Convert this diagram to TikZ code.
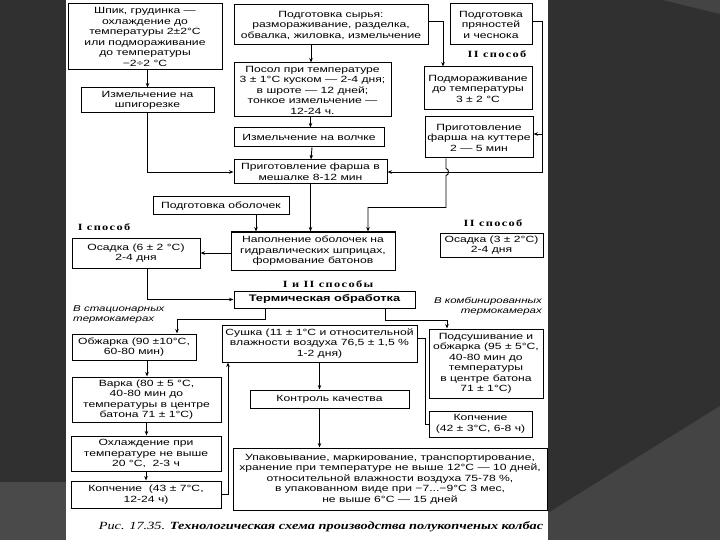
\documentclass[tikz,border=0pt]{standalone}
\usepackage{fontspec}
\setmainfont{Liberation Sans}[FakeStretch=1.35]
\newfontfamily\labfont{Liberation Serif}[FakeStretch=1.3]
\usetikzlibrary{arrows.meta}
\definecolor{bgdark}{RGB}{48,48,48}
\definecolor{bglight}{RGB}{68,68,68}
\definecolor{bgleft}{RGB}{74,74,74}
\tikzset{
  box/.style={draw=black, line width=1pt, fill=white, inner sep=0pt, align=center,
    font=\fontsize{9}{10.5}\selectfont},
  arr/.style={line width=0.9pt, -{Stealth[length=4.5pt,width=3.5pt]}},
  ln/.style={line width=0.9pt},
  lab/.style={inner sep=0pt, font=\labfont\bfseries\fontsize{9.5}{11}\selectfont\addfontfeature{LetterSpace=14}},
  itl/.style={inner sep=0pt, font=\itshape\fontsize{8.5}{10}\selectfont},
}
\begin{document}
\begin{tikzpicture}[x=1pt,y=-1pt]
\useasboundingbox (0,0) rectangle (720,540);
\fill[bgdark] (0,0) rectangle (720,540);
\fill[bglight] (548,513) -- (720,406) -- (720,540) -- (548,540) -- cycle;
\fill[bglight] (663,0) -- (720,0) -- (720,14) -- cycle;
\fill[bgleft] (0,482) rectangle (66,540);
\fill[white] (66,0) rectangle (548,540);

% left column
\node[box, minimum width=154pt, minimum height=66pt] (shpik) at (145,37)
  {Шпик, грудинка —\\охлаждение до\\температуры 2±2°C\\или подмораживание\\до температуры\\−2÷2 °C};
\node[box, minimum width=133pt, minimum height=25pt] (shpig) at (147.5,100.5)
  {Измельчение на\\шпигорезке};

% middle column
\node[box, minimum width=194pt, minimum height=40pt] (syr) at (331,25)
  {Подготовка сырья:\\размораживание, разделка,\\обвалка, жиловка, измельчение};
\node[box, minimum width=157pt, minimum height=54pt] (posol) at (312.5,90)
  {Посол при температуре\\3 ± 1°C куском — 2-4 дня;\\в шроте — 12 дней;\\тонкое измельчение —\\12-24 ч.};
\node[box, minimum width=150pt, minimum height=19pt] (volch) at (309,137.5)
  {Измельчение на волчке};
\node[box, minimum width=153pt, minimum height=24pt] (mesh) at (310.5,172)
  {Приготовление фарша в\\мешалке 8-12 мин};

% right column
\node[box, minimum width=82pt, minimum height=41pt] (pryan) at (491,24.5)
  {Подготовка\\пряностей\\и чеснока};
\node[lab] (sp2a) at (497,54) {II способ};
\node[box, minimum width=108pt, minimum height=43pt] (podmor) at (478,88.5)
  {Подмораживание\\до температуры\\3 ± 2 °C};
\node[box, minimum width=108pt, minimum height=41pt] (kutt) at (479,137.5)
  {Приготовление\\фарша на куттере\\2 — 5 мин};

% filling
\node[box, minimum width=136pt, minimum height=18pt] (obol) at (221,206)
  {Подготовка оболочек};
\node[box, minimum width=164pt, minimum height=38pt] (napol) at (313,251)
  {Наполнение оболочек на\\гидравлических шприцах,\\формование батонов};
\node[lab] (sp1) at (104,227) {I способ};
\node[box, minimum width=128pt, minimum height=30pt] (osad1) at (136,253)
  {Осадка (6 ± 2 °C)\\2-4 дня};
\node[lab] (sp2b) at (493,223) {II способ};
\node[box, minimum width=103pt, minimum height=24pt] (osad2) at (491.5,245)
  {Осадка (3 ± 2°C)\\2-4 дня};

% thermal
\node[lab] (sp12) at (328,284) {I и II способы};
\node[box, minimum width=181pt, minimum height=17pt, font=\bfseries\fontsize{9.5}{11}\selectfont] (term) at (324.5,299.5)
  {Термическая обработка};
\node[itl, anchor=north west, align=left] (stat) at (73,305)
  {В стационарных\\термокамерах};
\node[itl, anchor=north east, align=right] (komb) at (542,297)
  {В комбинированных\\термокамерах};

\node[box, minimum width=124pt, minimum height=26pt] (obj) at (134,347)
  {Обжарка (90 ±10°C,\\60-80 мин)};
\node[box, minimum width=149pt, minimum height=45pt] (vark) at (146.5,399.5)
  {Варка (80 ± 5 °C,\\40-80 мин до\\температуры в центре\\батона 71 ± 1°C)};
\node[box, minimum width=150pt, minimum height=35pt] (ohl) at (146,453.5)
  {Охлаждение при\\температуре не выше\\20 °C,\ \ 2-3 ч};
\node[box, minimum width=150pt, minimum height=27pt] (kop43) at (146,494.5)
  {Копчение\ \ (43 ± 7°C,\\12-24 ч)};

\node[box, minimum width=195pt, minimum height=37pt] (sush) at (319.5,343.5)
  {Сушка (11 ± 1°C и относительной\\влажности воздуха 76,5 ± 1,5 \%\\1-2 дня)};
\node[box, minimum width=159pt, minimum height=18pt] (kontr) at (329.5,399)
  {Контроль качества};
\node[box, minimum width=314pt, minimum height=62pt] (upak) at (390,479)
  {Упаковывание, маркирование, транспортирование,\\хранение при температуре не выше 12°C — 10 дней,\\относительной влажности воздуха 75-78 \%,\\в упакованном виде при −7...−9°C 3 мес,\\не выше 6°C — 15 дней};

\node[box, minimum width=114pt, minimum height=69pt] (podsush) at (486,363.5)
  {Подсушивание и\\обжарка (95 ± 5°C,\\40-80 мин до\\температуры\\в центре батона\\71 ± 1°C)};
\node[box, minimum width=103pt, minimum height=26pt] (kop42) at (480.5,424)
  {Копчение\\(42 ± 3°C, 6-8 ч)};

\node[inner sep=0pt, font=\labfont\fontsize{11}{13}\selectfont] (cap) at (321,527)
  {\textit{Рис. 17.35.} \textbf{\textit{Технологическая схема производства полукопченых колбас}}};

% connectors
\draw[arr] (shpig.north |- shpik.south) -- (shpig.north);
\draw[arr] (shpig.south) |- (mesh.west);
\draw[arr] ([xshift=-1.5pt]posol.north |- syr.south) -- ([xshift=-1.5pt]posol.north);
\draw[arr] ([xshift=1.5pt]volch.north |- posol.south) -- ([xshift=1.5pt]volch.north);
\draw[arr] ([xshift=1.5pt]mesh.north |- volch.south) -- ([xshift=0.5pt]mesh.north);
\draw[arr] (mesh.south) -- (mesh.south |- napol.north);
\draw[arr] ([xshift=35pt]obol.south) -- ([xshift=35pt]obol.south |- napol.north);
\draw[arr] ([yshift=4pt]syr.east) -| ([xshift=-35pt]podmor.north);
\draw[arr] ([yshift=3.5pt]pryan.east) -- ++(10,0) |- (mesh.east);
\draw[arr] ([xshift=9pt,yshift=3.5pt]kutt.east) -- ([yshift=3.5pt]kutt.east);
\draw[arr] ([xshift=-33pt]kutt.south) -- ++(0,10) to[out=0,in=0,looseness=1.2] ++(0,7) -- ++(0,32) -| ([xshift=55pt]napol.north);
\draw[arr] (napol.west |- osad1.east) -- (osad1.east);
\draw[arr] ([xshift=11pt]osad1.south) |- (term.west);
\draw[arr] ([xshift=-59.5pt]term.south) -- ++(0,11) -| ([xshift=43pt]obj.north);
\draw[arr] ([xshift=60.5pt]term.south) -- ++(0,12) -| ([xshift=-39pt]podsush.north);
\draw[arr] ([xshift=13pt]obj.south) -- ([xshift=13pt]obj.south |- vark.north);
\draw[arr] (vark.south) -- (vark.south |- ohl.north);
\draw[arr] (ohl.south) -- (ohl.south |- kop43.north);
\draw[arr] (kop43.east) -| ([xshift=-91.5pt]sush.south);
\draw[arr] (sush.south) -- (sush.south |- kontr.north);
\draw[arr] (kontr.south -| sush.south) -- (upak.north -| sush.south);
\draw[ln] ([yshift=5.5pt]sush.east) -- ++(8,0) |- (kop42.west);
\end{tikzpicture}
\end{document}
